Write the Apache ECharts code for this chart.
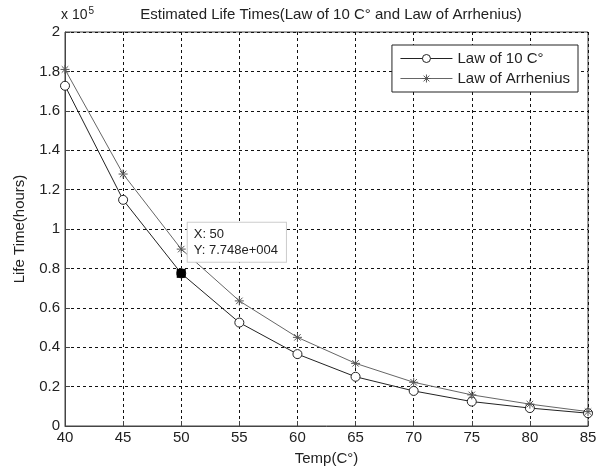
<!DOCTYPE html>
<html>
<head>
<meta charset="utf-8">
<style>
  html, body { margin: 0; padding: 0; background: #fff; }
  #chart { width: 604px; height: 471px; }
</style>
<script src="https://cdn.jsdelivr.net/npm/echarts@6/dist/echarts.min.js"></script>
</head>
<body>
<div id="chart"></div>
<script>
// data
var temps = [40, 45, 50, 55, 60, 65, 70, 75, 80, 85];
var law10 = [172700, 114800, 77480, 52500, 36500, 25000, 17800, 12400, 9100, 6500];
var arrhenius = [181000, 127900, 89800, 63500, 45000, 31800, 22200, 15800, 11100, 7300];
var yTicks = [0, 20000, 40000, 60000, 80000, 100000, 120000, 140000, 160000, 180000, 200000];
// the data cursor point
var tipX = 50;
var tipY = 77480;

var font = 'Liberation Sans, Arial, sans-serif';
var star = 'path://M0,-5L0,5M-5,0L5,0M-3.6,-3.6L3.6,3.6M-3.6,3.6L3.6,-3.6';

var myChart = echarts.init(document.getElementById('chart'));

var option = {
  animation: false,
  backgroundColor: '#fff',
  textStyle: { fontFamily: font },
  title: {
    text: 'Estimated Life Times(Law of 10 C\u00b0 and Law of Arrhenius)',
    left: 326, top: 2, textAlign: 'center',
    textStyle: { fontSize: 15, fontWeight: 'normal', color: '#222', fontFamily: font }
  },
  graphic: [{
    type: 'text', left: 61, top: 6,
    style: {
      text: '{a|x 10}{b|5}',
      rich: {
        a: { fontSize: 14, fontFamily: font, fill: '#222' },
        b: { fontSize: 10, fontFamily: font, fill: '#222', verticalAlign: 'top', padding: [0, 0, 8, 1] }
      }
    }
  }],
  legend: {
    data: ['Law of 10 C\u00b0', 'Law of Arrhenius'],
    orient: 'vertical', right: 26, top: 45,
    padding: [6, 8, 6, 8], itemGap: 5,
    itemWidth: 52, itemHeight: 10,
    lineStyle: { width: 1 },
    itemStyle: { borderWidth: 1 },
    borderColor: '#222', borderWidth: 1, backgroundColor: '#fff',
    textStyle: { fontSize: 15, color: '#222', fontFamily: font }
  },
  grid: { left: 65, right: 16, top: 32, bottom: 45, show: true, borderColor: '#444', borderWidth: 1 },
  xAxis: {
    type: 'value', min: 40, max: 85, interval: 5,
    name: 'Temp(C\u00b0)', nameLocation: 'middle', nameGap: 25,
    nameTextStyle: { fontSize: 15, color: '#222', fontFamily: font },
    axisLine: { lineStyle: { color: '#444' } },
    axisTick: { inside: true, length: 5, lineStyle: { color: '#444' } },
    axisLabel: { fontSize: 15, color: '#222', margin: 4 },
    splitLine: { lineStyle: { color: '#111', type: [3, 3], width: 1 } }
  },
  yAxis: {
    type: 'value', min: yTicks[0], max: yTicks[yTicks.length - 1], interval: 20000,
    name: 'Life Time(hours)', nameLocation: 'middle', nameGap: 38,
    nameTextStyle: { fontSize: 15, color: '#222', fontFamily: font },
    axisLine: { show: true, lineStyle: { color: '#444' } },
    axisTick: { show: true, inside: true, length: 5, lineStyle: { color: '#444' } },
    axisLabel: {
      fontSize: 15, color: '#222', margin: 5,
      formatter: function (v) { return String(Math.round(v / 1e4) / 10); }
    },
    splitLine: { lineStyle: { color: '#111', type: [3, 3], width: 1 } }
  },
  series: [
    {
      name: 'Law of 10 C\u00b0', type: 'line',
      data: temps.map(function (t, i) { return [t, law10[i]]; }),
      symbol: 'circle', symbolSize: 9, showSymbol: true,
      lineStyle: { color: '#222', width: 1 },
      itemStyle: { color: '#fff', borderColor: '#222', borderWidth: 1 }
    },
    {
      name: 'Law of Arrhenius', type: 'line',
      data: temps.map(function (t, i) { return [t, arrhenius[i]]; }),
      symbol: star, symbolSize: 9, showSymbol: true,
      lineStyle: { color: '#666', width: 1 },
      itemStyle: { color: 'none', borderColor: '#555', borderWidth: 1 }
    },
    {
      name: 'tip', type: 'scatter', z: 10,
      data: [[tipX, tipY]],
      symbol: 'rect', symbolSize: 9,
      itemStyle: { color: '#000', opacity: 1 },
      label: {
        show: true, position: [11, -46],
        formatter: 'X: ' + tipX + '\nY: 7.748e+004',
        fontSize: 13, lineHeight: 16, color: '#222', fontFamily: font,
        backgroundColor: '#fff', borderColor: '#ccc', borderWidth: 1,
        padding: [4, 8, 3, 6], align: 'left', verticalAlign: 'top'
      }
    }
  ]
};

myChart.setOption(option);
window.addEventListener('resize', function () {
  myChart.resize();
});
</script>
</body>
</html>
